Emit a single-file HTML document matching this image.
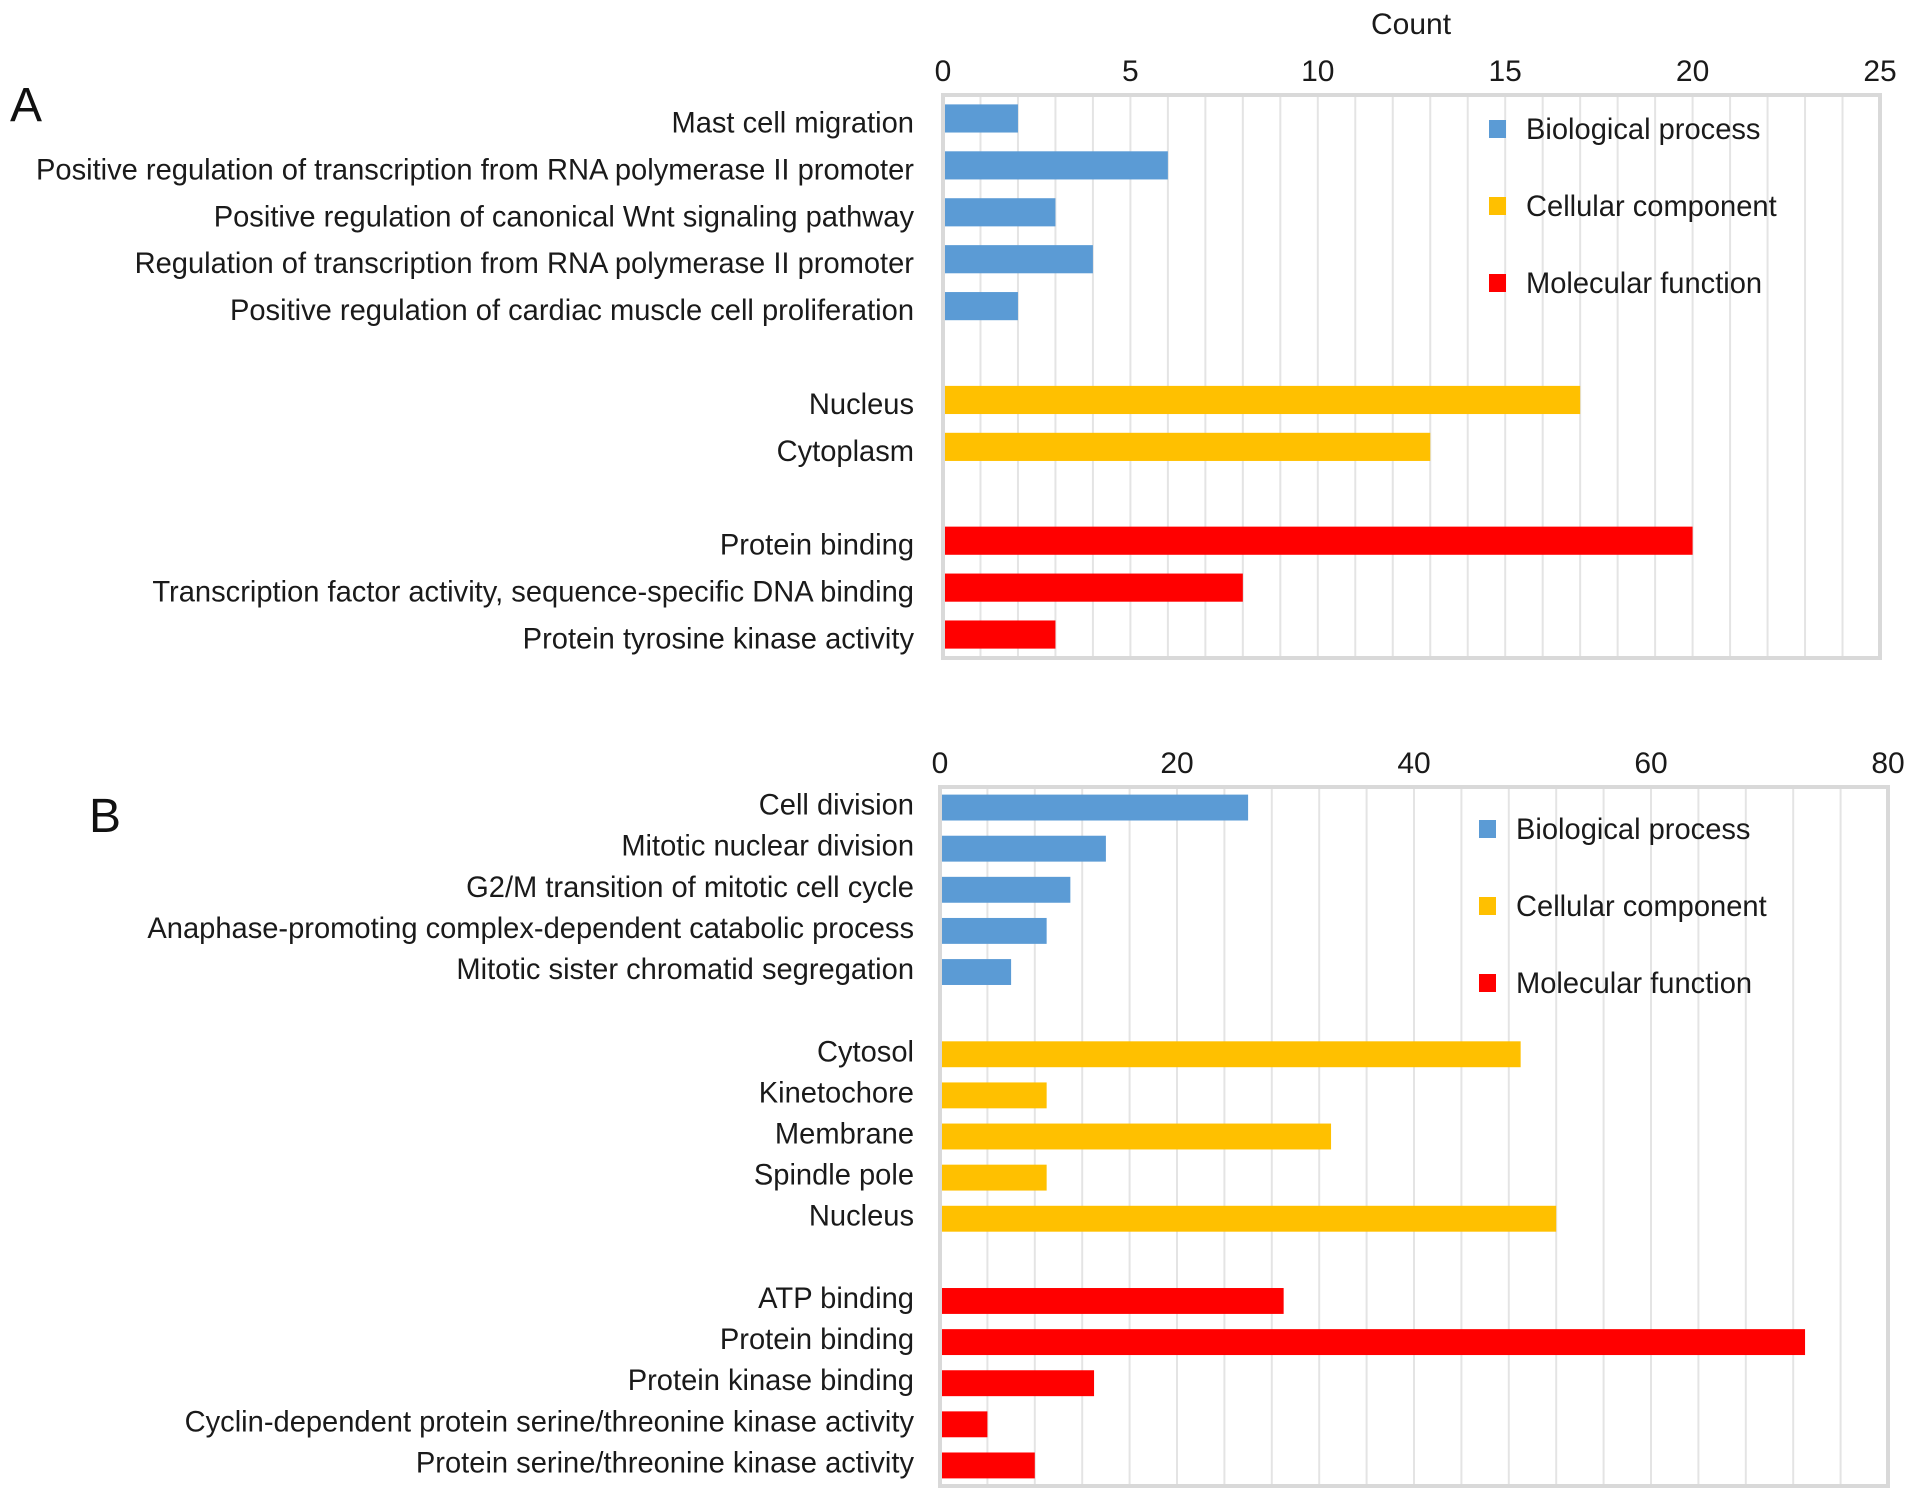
<!DOCTYPE html>
<html><head><meta charset="utf-8"><style>
html,body{margin:0;padding:0;background:#fff;}
svg{display:block;font-family:"Liberation Sans",Arial,sans-serif;}
</style></head><body>
<svg id="chart" width="1913" height="1502" viewBox="0 0 1913 1502"></svg>
<script>
const catsA = ["Mast cell migration","Positive regulation of transcription from RNA polymerase II promoter","Positive regulation of canonical Wnt signaling pathway","Regulation of transcription from RNA polymerase II promoter","Positive regulation of cardiac muscle cell proliferation",null,"Nucleus","Cytoplasm",null,"Protein binding","Transcription factor activity, sequence-specific DNA binding","Protein tyrosine kinase activity"];
const valsA = [2,6,3,4,2,null,17,13,null,20,8,3];
const groupA = ["bp","bp","bp","bp","bp",null,"cc","cc",null,"mf","mf","mf"];
const ticksA = [0,5,10,15,20,25];

const catsB = ["Cell division","Mitotic nuclear division","G2/M transition of mitotic cell cycle","Anaphase-promoting complex-dependent catabolic process","Mitotic sister chromatid segregation",null,"Cytosol","Kinetochore","Membrane","Spindle pole","Nucleus",null,"ATP binding","Protein binding","Protein kinase binding","Cyclin-dependent protein serine/threonine kinase activity","Protein serine/threonine kinase activity"];
const valsB = [26,14,11,9,6,null,49,9,33,9,52,null,29,73,13,4,8];
const groupB = ["bp","bp","bp","bp","bp",null,"cc","cc","cc","cc","cc",null,"mf","mf","mf","mf","mf"];
const ticksB = [0,20,40,60,80];

const legendLabels = ["Biological process","Cellular component","Molecular function"];
const legendKeys = ["bp","cc","mf"];
const colors = {bp:"#5b9bd5", cc:"#ffc000", mf:"#ff0000"};

const NS = "http://www.w3.org/2000/svg";
const svg = document.getElementById("chart");
function mk(tag, attrs, parent){const e=document.createElementNS(NS,tag);for(const k in attrs)e.setAttribute(k,attrs[k]);(parent||svg).appendChild(e);return e;}

function drawPanel(cfg){
  const g = mk("g",{});
  
  
  const {x0,x1,y0,y1,max,minor,cats,vals,groups,ticks} = cfg;
  const xs = v => x0 + (v/max)*(x1-x0);
  const slot = (y1-y0)/cats.length;
  const ys = i => y0 + slot*(i+0.5);
  for(let v=minor; v<max; v+=minor){
    const l = mk("line",{x1:xs(v),x2:xs(v),y1:y0,y2:y1,stroke:"#e4e4e4","stroke-width":2},g);
    
    
  }
  cats.forEach((c,i)=>{
    if(c===null) return;
    const bh = slot*cfg.barFrac;
    const r = mk("rect",{x:x0,y:ys(i)-bh/2,width:xs(vals[i])-x0,height:bh,fill:colors[groups[i]]},g);
    
    
    const t = mk("text",{transform:`translate(914,${ys(i)+cfg.labOff}) scale(0.97,1)`,"text-anchor":"end","font-size":30,fill:"#1a1a1a"},g);
    t.textContent = c;
    
    
  });
  const f = mk("rect",{x:x0,y:y0,width:x1-x0,height:y1-y0,fill:"none",stroke:"#d9d9d9","stroke-width":4},g);
  
  
  ticks.forEach(v=>{
    const t = mk("text",{x:xs(v),y:cfg.tickY+11,"text-anchor":"middle","font-size":30,fill:"#1a1a1a"},g);
    t.textContent = v;
    
    
  });
  legendLabels.forEach((lab,i)=>{
    const cy = cfg.legY[i];
    const s = mk("rect",{x:cfg.legX,y:cy-9,width:17,height:18,fill:colors[legendKeys[i]]},g);
    
    
    const t = mk("text",{transform:`translate(${cfg.legX+37},${cy+10}) scale(0.97,1)`,"font-size":30,fill:"#1a1a1a"},g);
    t.textContent = lab;
    
    
  });
  const pl = mk("text",{x:cfg.letterX,y:cfg.letterY,"font-size":48,fill:"#111"},g);
  pl.textContent = cfg.letter;
  
  
}

drawPanel({name:"panel-a",x0:943,x1:1880,y0:95,y1:658,max:25,minor:1,cats:catsA,vals:valsA,groups:groupA,ticks:ticksA,barFrac:0.6,tickY:70,labOff:14,legX:1489,legY:[129,206,283],letter:"A",letterX:10,letterY:121});
drawPanel({name:"panel-b",x0:940,x1:1888,y0:787,y1:1486,max:80,minor:4,cats:catsB,vals:valsB,groups:groupB,ticks:ticksB,barFrac:0.63,tickY:762,labOff:7,legX:1479,legY:[829,906,983],letter:"B",letterX:89,letterY:832});

const ct = mk("text",{x:1411,y:34,"text-anchor":"middle","font-size":30,fill:"#1a1a1a"});
ct.textContent = "Count";


</script>
</body></html>
